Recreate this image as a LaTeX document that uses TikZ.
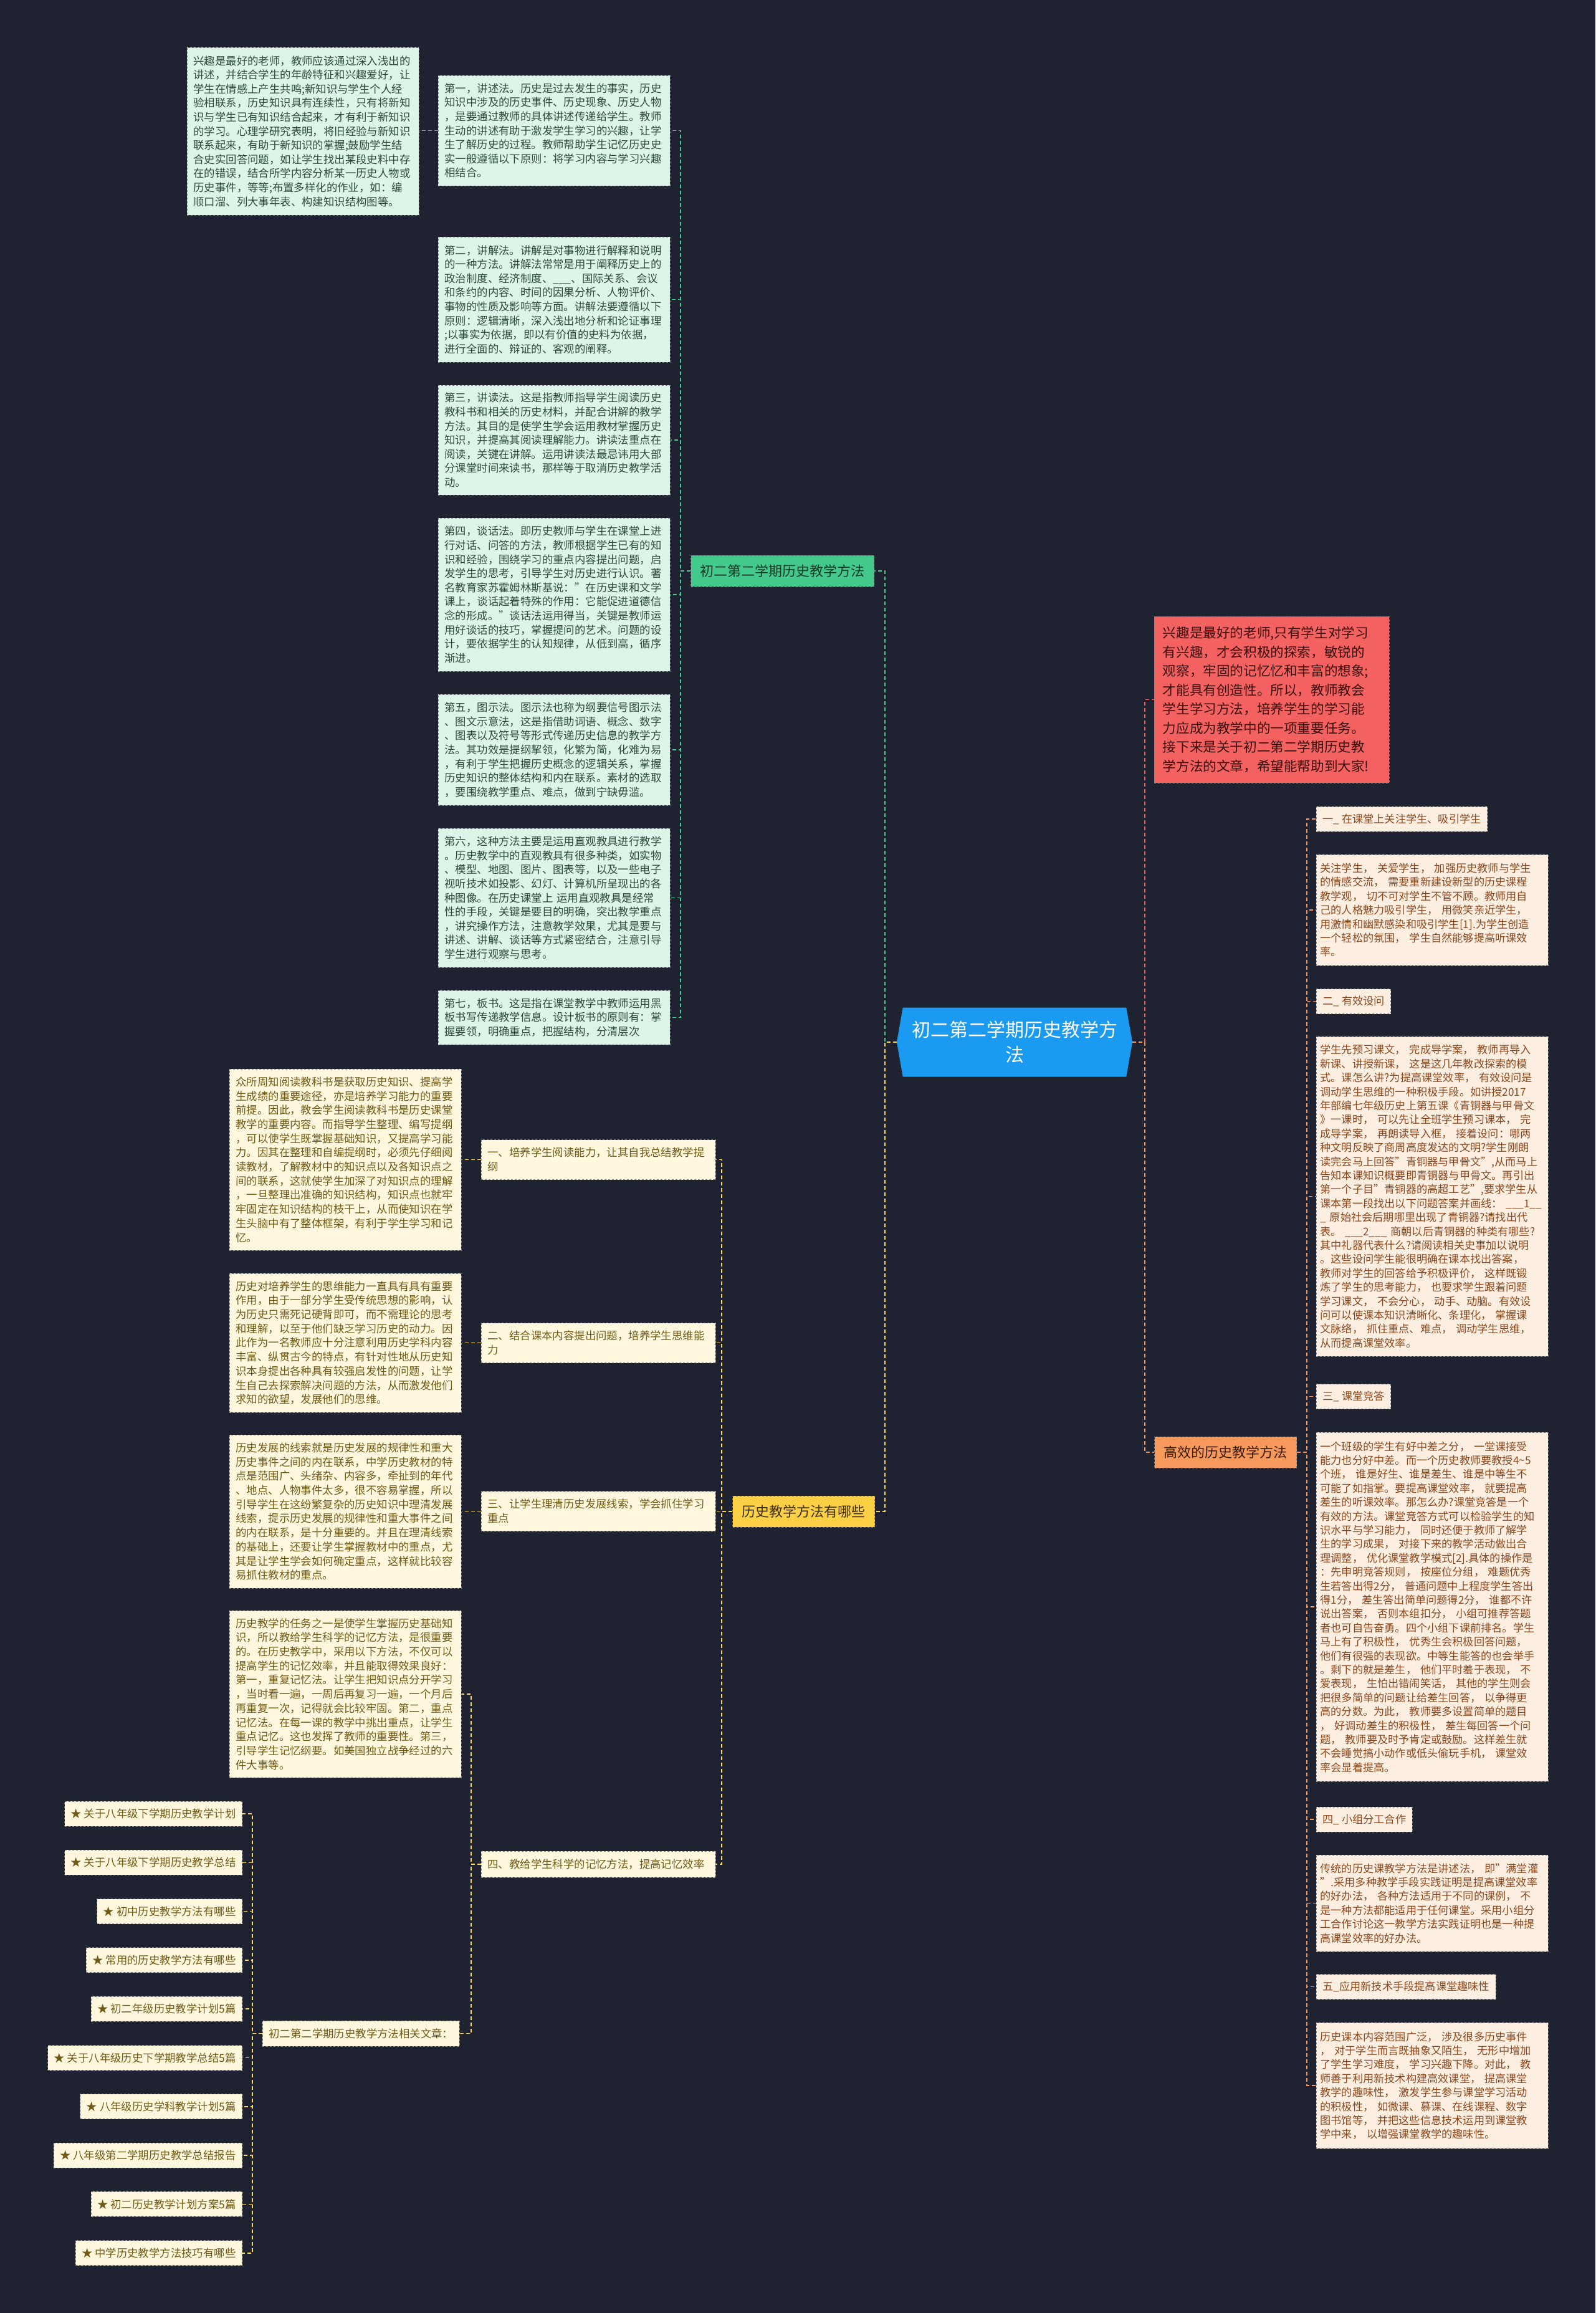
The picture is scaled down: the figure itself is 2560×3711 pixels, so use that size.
\documentclass[tikz,border=0pt]{standalone}
\usepackage{fontspec}
\setmainfont{Noto Sans CJK SC}
\usepackage{xcolor}
\usepackage{tikz}
\usetikzlibrary{shapes.symbols}
\definecolor{bgnavy}{RGB}{31,35,49}
\definecolor{rootblue}{RGB}{26,154,240}
\definecolor{mintgreen}{RGB}{67,201,139}
\definecolor{mintdark}{RGB}{24,58,40}
\definecolor{mintleaf}{RGB}{221,245,232}
\definecolor{mintink}{RGB}{44,74,60}
\definecolor{sungold}{RGB}{251,208,68}
\definecolor{golddark}{RGB}{58,44,8}
\definecolor{goldleaf}{RGB}{255,248,222}
\definecolor{goldink}{RGB}{112,90,22}
\definecolor{coralred}{RGB}{243,98,96}
\definecolor{reddark}{RGB}{58,14,14}
\definecolor{tangerine}{RGB}{246,153,92}
\definecolor{tangdark}{RGB}{60,26,6}
\definecolor{peachleaf}{RGB}{253,238,226}
\definecolor{peachink}{RGB}{140,72,28}

\begin{document}
\begin{tikzpicture}[x=1pt,y=-1pt,
    panel/.style={rectangle,draw=black!50,dashed,line width=0.9pt,inner ysep=0pt,align=left},
    leafg/.style={panel,fill=mintleaf,text=mintink,font=\fontsize{17.4}{22.6}\selectfont,inner xsep=10pt,text width=352pt,anchor=west},
    leafy/.style={panel,fill=goldleaf,text=goldink,font=\fontsize{17.4}{22.7}\selectfont,inner xsep=10pt,text width=352pt,anchor=west},
    leafo/.style={panel,fill=peachleaf,text=peachink,font=\fontsize{17.2}{22.4}\selectfont,inner xsep=6pt,text width=360pt,anchor=west},
    tago/.style={panel,fill=peachleaf,text=peachink,font=\fontsize{17.2}{22.4}\selectfont,inner xsep=10pt,minimum height=40pt,anchor=west},
    taggold/.style={panel,fill=goldleaf,text=goldink,font=\fontsize{17.4}{22.7}\selectfont,inner xsep=10pt,anchor=west},
    hub/.style={panel,font=\fontsize{22}{28}\selectfont,inner xsep=15pt,minimum height=50pt},
    rootnode/.style={shape=signal,signal to=east and west,signal pointer angle=160,fill=rootblue,text=white,
      font=\fontsize{30}{40}\selectfont,align=center,minimum width=378pt,minimum height=111pt,inner sep=0pt},
    linkg/.style={draw=mintgreen,line width=1.6pt,dash pattern=on 6pt off 4pt},
    linky/.style={draw=sungold!90!white,line width=1.6pt,dash pattern=on 6pt off 4pt},
    linkr/.style={draw=coralred,line width=1.6pt,dash pattern=on 6pt off 4pt},
    linko/.style={draw=tangerine,line width=1.6pt,dash pattern=on 6pt off 4pt}
  ]
  \fill[bgnavy] (0,0) rectangle (2560,3711);

  % centre
  \node[rootnode] (root) at (1628,1672) {初二第二学期历史教学方\\法};

  % green branch
  \node[hub,fill=mintgreen,text=mintdark] (meth) at (1255.5,916) {初二第二学期历史教学方法};
  \node[leafg,minimum height=269pt] (gA) at (300,210.5) {兴趣是最好的老师，教师应该通过深入浅出的\\讲述，并结合学生的年龄特征和兴趣爱好，让\\学生在情感上产生共鸣;新知识与学生个人经\\验相联系，历史知识具有连续性，只有将新知\\识与学生已有知识结合起来，才有利于新知识\\的学习。心理学研究表明，将旧经验与新知识\\联系起来，有助于新知识的掌握;鼓励学生结\\合史实回答问题，如让学生找出某段史料中存\\在的错误，结合所学内容分析某一历史人物或\\历史事件，等等;布置多样化的作业，如：编\\顺口溜、列大事年表、构建知识结构图等。};
  \node[leafg,minimum height=177pt] (g1) at (703,209.5) {第一，讲述法。历史是过去发生的事实，历史\\知识中涉及的历史事件、历史现象、历史人物\\，是要通过教师的具体讲述传递给学生。教师\\生动的讲述有助于激发学生学习的兴趣，让学\\生了解历史的过程。教师帮助学生记忆历史史\\实一般遵循以下原则：将学习内容与学习兴趣\\相结合。};
  \node[leafg,minimum height=201pt] (g2) at (703,480.5) {第二，讲解法。讲解是对事物进行解释和说明\\的一种方法。讲解法常常是用于阐释历史上的\\政治制度、经济制度、\_\_\_、国际关系、会议\\和条约的内容、时间的因果分析、人物评价、\\事物的性质及影响等方面。讲解法要遵循以下\\原则：逻辑清晰，深入浅出地分析和论证事理\\;以事实为依据，即以有价值的史料为依据，\\进行全面的、辩证的、客观的阐释。};
  \node[leafg,minimum height=176pt] (g3) at (703,706) {第三，讲读法。这是指教师指导学生阅读历史\\教科书和相关的历史材料，并配合讲解的教学\\方法。其目的是使学生学会运用教材掌握历史\\知识，并提高其阅读理解能力。讲读法重点在\\阅读，关键在讲解。运用讲读法最忌讳用大部\\分课堂时间来读书，那样等于取消历史教学活\\动。};
  \node[leafg,minimum height=246pt] (g4) at (703,954) {第四，谈话法。即历史教师与学生在课堂上进\\行对话、问答的方法，教师根据学生已有的知\\识和经验，围绕学习的重点内容提出问题，启\\发学生的思考，引导学生对历史进行认识。著\\名教育家苏霍姆林斯基说："在历史课和文学\\课上，谈话起着特殊的作用：它能促进道德信\\念的形成。"谈话法运用得当，关键是教师运\\用好谈话的技巧，掌握提问的艺术。问题的设\\计，要依据学生的认知规律，从低到高，循序\\渐进。};
  \node[leafg,minimum height=178pt] (g5) at (703,1203) {第五，图示法。图示法也称为纲要信号图示法\\、图文示意法，这是指借助词语、概念、数字\\、图表以及符号等形式传递历史信息的教学方\\法。其功效是提纲挈领，化繁为简，化难为易\\，有利于学生把握历史概念的逻辑关系，掌握\\历史知识的整体结构和内在联系。素材的选取\\，要围绕教学重点、难点，做到宁缺毋滥。};
  \node[leafg,minimum height=223pt] (g6) at (703,1440.5) {第六，这种方法主要是运用直观教具进行教学\\。历史教学中的直观教具有很多种类，如实物\\、模型、地图、图片、图表等，以及一些电子\\视听技术如投影、幻灯、计算机所呈现出的各\\种图像。在历史课堂上 运用直观教具是经常\\性的手段，关键是要目的明确，突出教学重点\\，讲究操作方法，注意教学效果，尤其是要与\\讲述、讲解、谈话等方式紧密结合，注意引导\\学生进行观察与思考。};
  \node[leafg,minimum height=87pt] (g7) at (703,1632.5) {第七，板书。这是指在课堂教学中教师运用黑\\板书写传递教学信息。设计板书的原则有：掌\\握要领，明确重点，把握结构，分清层次};

  % yellow branch
  \node[hub,fill=sungold,text=golddark] (ways) at (1289.5,2425) {历史教学方法有哪些};
  \node[taggold,text width=356pt,minimum height=64pt] (y1) at (772,1860.5) {一、培养学生阅读能力，让其自我总结教学提\\纲};
  \node[taggold,text width=356pt,minimum height=64pt] (y2) at (772,2154.5) {二、结合课本内容提出问题，培养学生思维能\\力};
  \node[taggold,text width=356pt,minimum height=64pt] (y3) at (772,2424.5) {三、让学生理清历史发展线索，学会抓住学习\\重点};
  \node[taggold,text width=356pt,minimum height=42pt] (y4) at (772,2991) {四、教给学生科学的记忆方法，提高记忆效率};
  \node[leafy,minimum height=291pt] (yb1) at (368,1860.5) {众所周知阅读教科书是获取历史知识、提高学\\生成绩的重要途径，亦是培养学习能力的重要\\前提。因此，教会学生阅读教科书是历史课堂\\教学的重要内容。而指导学生整理、编写提纲\\，可以使学生既掌握基础知识，又提高学习能\\力。因其在整理和自编提纲时，必须先仔细阅\\读教材，了解教材中的知识点以及各知识点之\\间的联系，这就使学生加深了对知识点的理解\\，一旦整理出准确的知识结构，知识点也就牢\\牢固定在知识结构的枝干上，从而使知识在学\\生头脑中有了整体框架，有利于学生学习和记\\忆。};
  \node[leafy,minimum height=223pt] (yb2) at (368,2154.5) {历史对培养学生的思维能力一直具有具有重要\\作用，由于一部分学生受传统思想的影响，认\\为历史只需死记硬背即可，而不需理论的思考\\和理解，以至于他们缺乏学习历史的动力。因\\此作为一名教师应十分注意利用历史学科内容\\丰富、纵贯古今的特点，有针对性地从历史知\\识本身提出各种具有较强启发性的问题，让学\\生自己去探索解决问题的方法，从而激发他们\\求知的欲望，发展他们的思维。};
  \node[leafy,minimum height=246pt] (yb3) at (368,2425) {历史发展的线索就是历史发展的规律性和重大\\历史事件之间的内在联系，中学历史教材的特\\点是范围广、头绪杂、内容多，牵扯到的年代\\、地点、人物事件太多，很不容易掌握，所以\\引导学生在这纷繁复杂的历史知识中理清发展\\线索，提示历史发展的规律性和重大事件之间\\的内在联系，是十分重要的。并且在理清线索\\的基础上，还要让学生掌握教材中的重点，尤\\其是让学生学会如何确定重点，这样就比较容\\易抓住教材的重点。};
  \node[leafy,minimum height=268pt] (yb4) at (368,2718) {历史教学的任务之一是使学生掌握历史基础知\\识，所以教给学生科学的记忆方法，是很重要\\的。在历史教学中，采用以下方法，不仅可以\\提高学生的记忆效率，并且能取得效果良好：\\第一，重复记忆法。让学生把知识点分开学习\\，当时看一遍，一周后再复习一遍，一个月后\\再重复一次，记得就会比较牢固。第二，重点\\记忆法。在每一课的教学中挑出重点，让学生\\重点记忆。这也发挥了教师的重要性。第三，\\引导学生记忆纲要。如美国独立战争经过的六\\件大事等。};
  \node[taggold,minimum height=41pt] (rel) at (421,3262.5) {初二第二学期历史教学方法相关文章：};
  \foreach \t [count=\i] in {关于八年级下学期历史教学计划,关于八年级下学期历史教学总结,初中历史教学方法有哪些,常用的历史教学方法有哪些,初二年级历史教学计划5篇,关于八年级历史下学期教学总结5篇,八年级历史学科教学计划5篇,八年级第二学期历史教学总结报告,初二历史教学计划方案5篇,中学历史教学方法技巧有哪些}{
    \node[taggold,anchor=east,minimum height=40pt] (li\i) at (389,{2910+(\i-1)*78.3}) {★ \t};
  }

  % right side
  \node[panel,fill=coralred,text=reddark,font=\fontsize{21.6}{30.5}\selectfont,inner xsep=13.5pt,text width=350pt,minimum height=267pt,anchor=west] (intro) at (1852,1122.5) {兴趣是最好的老师,只有学生对学习\\有兴趣，才会积极的探索，敏锐的\\观察，牢固的记忆忆和丰富的想象;\\才能具有创造性。所以，教师教会\\学生学习方法，培养学生的学习能\\力应成为教学中的一项重要任务。\\接下来是关于初二第二学期历史教\\学方法的文章，希望能帮助到大家!};
  \node[hub,fill=tangerine,text=tangdark] (fast) at (1966.5,2330) {高效的历史教学方法};
  \node[tago] (o1) at (2112,1314) {一\_ 在课堂上关注学生、吸引学生};
  \node[leafo,minimum height=178pt] (ob1) at (2112,1460) {关注学生， 关爱学生， 加强历史教师与学生\\的情感交流， 需要重新建设新型的历史课程\\教学观， 切不可对学生不管不顾。教师用自\\己的人格魅力吸引学生， 用微笑亲近学生，\\用激情和幽默感染和吸引学生[1].为学生创造\\一个轻松的氛围， 学生自然能够提高听课效\\率。};
  \node[tago] (o2) at (2112,1606.5) {二\_ 有效设问};
  \node[leafo,minimum height=513pt] (ob2) at (2112,1919.5) {学生先预习课文， 完成导学案， 教师再导入\\新课、讲授新课， 这是这几年教改探索的模\\式。课怎么讲?为提高课堂效率， 有效设问是\\调动学生思维的一种积极手段。如讲授2017\\年部编七年级历史上第五课《青铜器与甲骨文\\》一课时， 可以先让全班学生预习课本， 完\\成导学案， 再朗读导入框， 接着设问：哪两\\种文明反映了商周高度发达的文明?学生刚朗\\读完会马上回答"青铜器与甲骨文",从而马上\\告知本课知识概要即青铜器与甲骨文。再引出\\第一个子目"青铜器的高超工艺",要求学生从\\课本第一段找出以下问题答案并画线： \_\_\_1\_\_\\\_ 原始社会后期哪里出现了青铜器?请找出代\\表。 \_\_\_2\_\_\_ 商朝以后青铜器的种类有哪些?\\其中礼器代表什么?请阅读相关史事加以说明\\。这些设问学生能很明确在课本找出答案，\\教师对学生的回答给予积极评价， 这样既锻\\炼了学生的思考能力， 也要求学生跟着问题\\学习课文， 不会分心， 动手、动脑。有效设\\问可以使课本知识清晰化、条理化， 掌握课\\文脉络， 抓住重点、难点， 调动学生思维，\\从而提高课堂效率。};
  \node[tago] (o3) at (2112,2240.5) {三\_ 课堂竞答};
  \node[leafo,minimum height=560pt] (ob3) at (2112,2578) {一个班级的学生有好中差之分， 一堂课接受\\能力也分好中差。而一个历史教师要教授4\textasciitilde 5\\个班， 谁是好生、谁是差生、谁是中等生不\\可能了如指掌。要提高课堂效率， 就要提高\\差生的听课效率。那怎么办?课堂竞答是一个\\有效的方法。课堂竞答方式可以检验学生的知\\识水平与学习能力， 同时还便于教师了解学\\生的学习成果， 对接下来的教学活动做出合\\理调整， 优化课堂教学模式[2].具体的操作是\\：先申明竞答规则， 按座位分组， 难题优秀\\生若答出得2分， 普通问题中上程度学生答出\\得1分， 差生答出简单问题得2分， 谁都不许\\说出答案， 否则本组扣分， 小组可推荐答题\\者也可自告奋勇。四个小组下课前排名。学生\\马上有了积极性， 优秀生会积极回答问题，\\他们有很强的表现欲。中等生能答的也会举手\\。剩下的就是差生， 他们平时羞于表现， 不\\爱表现， 生怕出错闹笑话， 其他的学生则会\\把很多简单的问题让给差生回答， 以争得更\\高的分数。为此， 教师要多设置简单的题目\\， 好调动差生的积极性， 差生每回答一个问\\题， 教师要及时予肯定或鼓励。这样差生就\\不会睡觉搞小动作或低头偷玩手机， 课堂效\\率会显着提高。};
  \node[tago] (o4) at (2112,2919) {四\_ 小组分工合作};
  \node[leafo,minimum height=155pt] (ob4) at (2112,3053.5) {传统的历史课教学方法是讲述法， 即"满堂灌\\".采用多种教学手段实践证明是提高课堂效率\\的好办法， 各种方法适用于不同的课例， 不\\是一种方法都能适用于任何课堂。采用小组分\\工合作讨论这一教学方法实践证明也是一种提\\高课堂效率的好办法。};
  \node[tago] (o5) at (2112,3187.5) {五\_应用新技术手段提高课堂趣味性};
  \node[leafo,minimum height=202pt] (ob5) at (2112,3346) {历史课本内容范围广泛， 涉及很多历史事件\\， 对于学生而言既抽象又陌生， 无形中增加\\了学生学习难度， 学习兴趣下降。对此， 教\\师善于利用新技术构建高效课堂， 提高课堂\\教学的趣味性， 激发学生参与课堂学习活动\\的积极性， 如微课、慕课、在线课程、数字\\图书馆等， 并把这些信息技术运用到课堂教\\学中来， 以增强课堂教学的趣味性。};

  % connectors
  \draw[linkg] (root.west) -- ++(-19,0) |- (meth.east);
  \foreach \b in {g1,g2,g3,g4,g5,g6,g7}
    \draw[linkg] (meth.west) -- ++(-16,0) |- (\b.east);
  \draw[linkg] (g1.west) -- (g1.west -| gA.east);

  \draw[linky] (root.west) -- ++(-19,0) |- (ways.east);
  \foreach \b in {y1,y2,y3,y4}
    \draw[linky] (ways.west) -- ++(-17,0) |- (\b.east);
  \foreach \i in {1,2,3}
    \draw[linky] (y\i.west) -- (y\i.west -| yb\i.east);
  \foreach \b in {yb4,rel}
    \draw[linky] (y4.west) -- ++(-16,0) |- (\b.east);
  \foreach \i in {1,...,10}
    \draw[linky] (rel.west) -- ++(-16,0) |- (li\i.east);

  \draw[linkr] (root.east) -- ++(20,0) |- (intro.west);
  \draw[linko] (root.east) -- ++(20,0) |- (fast.west);
  \foreach \b in {o1,ob1,o2,ob2,o3,ob3,o4,ob4,o5,ob5}
    \draw[linko] (fast.east) -- ++(16,0) |- (\b.west);
\end{tikzpicture}
\end{document}
